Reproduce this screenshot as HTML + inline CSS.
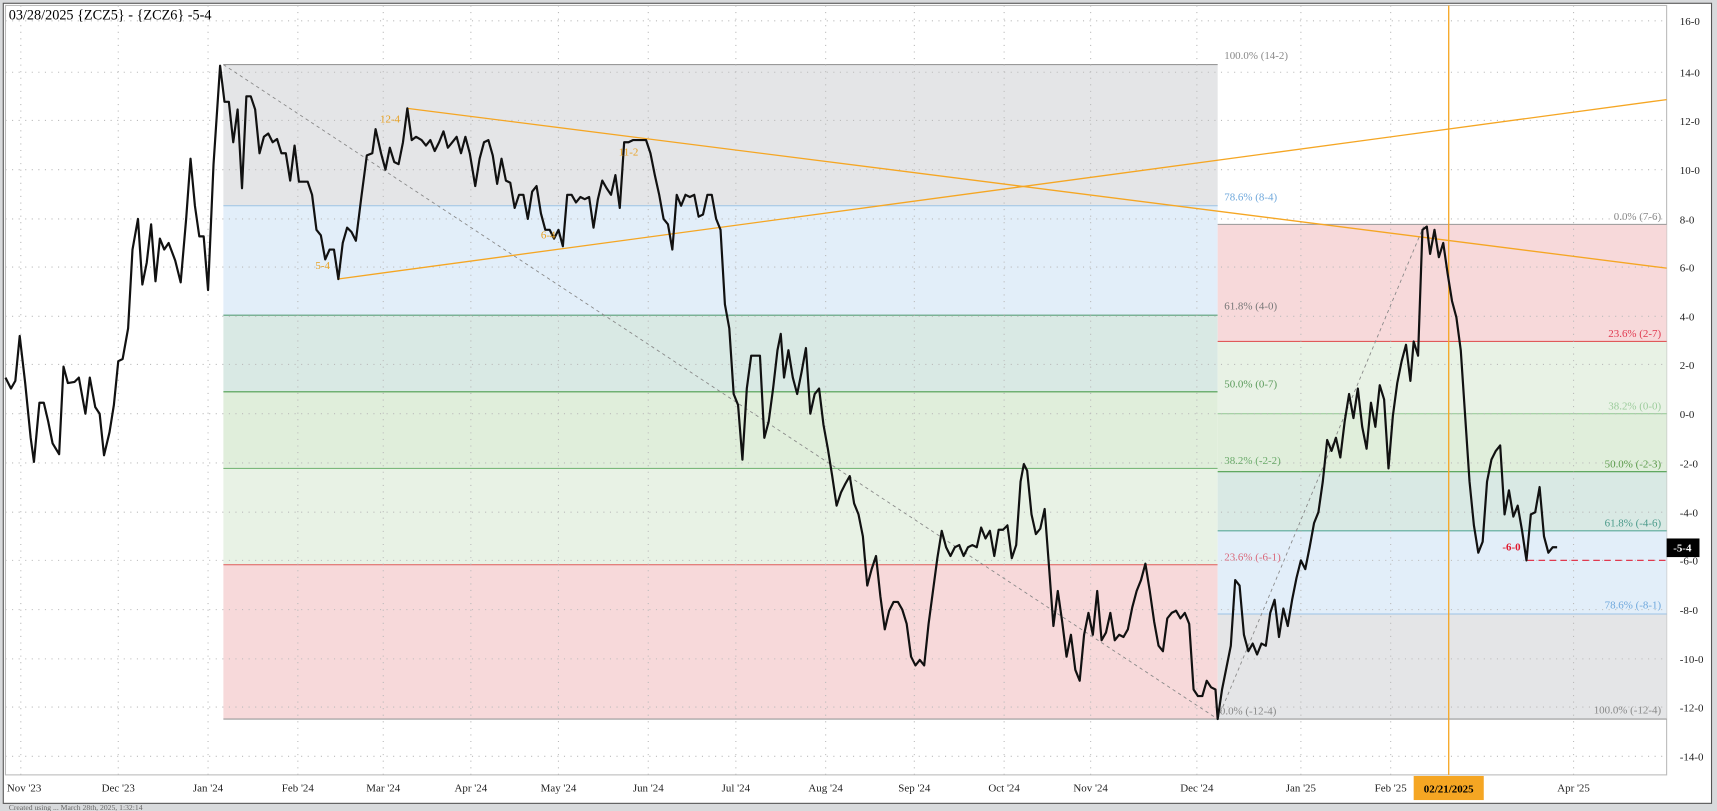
<!DOCTYPE html>
<html><head><meta charset="utf-8"><style>
html,body{margin:0;padding:0;background:#fff;}
svg{display:block;font-family:"Liberation Serif",serif;}
</style></head><body>
<svg width="1717" height="811" viewBox="0 0 1568 741" preserveAspectRatio="none" xmlns="http://www.w3.org/2000/svg">
<rect x="0" y="0" width="1568" height="741" fill="#d8dadc"/>
<rect x="3" y="3" width="1560" height="731" fill="#fff" stroke="#555" stroke-width="1"/>
<rect x="5" y="5" width="1517" height="703" fill="#fff" stroke="#bbb" stroke-width="1"/>
<!-- left fib -->
<rect x="204" y="59" width="908" height="129" fill="#e4e5e7"/>
<rect x="204" y="188" width="908" height="100" fill="#e2eef9"/>
<rect x="204" y="288" width="908" height="70" fill="#d9e9e4"/>
<rect x="204" y="358" width="908" height="70" fill="#e0eedb"/>
<rect x="204" y="428" width="908" height="88" fill="#e8f2e5"/>
<rect x="204" y="516" width="908" height="141" fill="#f7d9da"/>
<g stroke-width="1">
<line x1="204" y1="59" x2="1112" y2="59" stroke="#999"/>
<line x1="204" y1="188" x2="1112" y2="188" stroke="#9cc3e6"/>
<line x1="204" y1="288" x2="1112" y2="288" stroke="#5aa07a"/>
<line x1="204" y1="358" x2="1112" y2="358" stroke="#4e9e4e"/>
<line x1="204" y1="428" x2="1112" y2="428" stroke="#7bb87b"/>
<line x1="204" y1="516" x2="1112" y2="516" stroke="#e05a5a"/>
<line x1="204" y1="657" x2="1112" y2="657" stroke="#999"/>
</g>
<!-- right fib -->
<rect x="1112" y="205" width="410" height="107" fill="#f7d9da"/>
<rect x="1112" y="312" width="410" height="66" fill="#e8f2e5"/>
<rect x="1112" y="378" width="410" height="53" fill="#e0eedb"/>
<rect x="1112" y="431" width="410" height="54" fill="#d9e9e4"/>
<rect x="1112" y="485" width="410" height="76" fill="#e2eef9"/>
<rect x="1112" y="561" width="410" height="96" fill="#e4e5e7"/>
<g stroke-width="1">
<line x1="1112" y1="205" x2="1522" y2="205" stroke="#999"/>
<line x1="1112" y1="312" x2="1522" y2="312" stroke="#e05a5a"/>
<line x1="1112" y1="378" x2="1522" y2="378" stroke="#9ccc9c"/>
<line x1="1112" y1="431" x2="1522" y2="431" stroke="#4e9e4e"/>
<line x1="1112" y1="485" x2="1522" y2="485" stroke="#5aa99a"/>
<line x1="1112" y1="561" x2="1522" y2="561" stroke="#9cc3e6"/>
<line x1="1112" y1="657" x2="1522" y2="657" stroke="#999"/>
</g>
<!-- grid -->
<g stroke="#bbb" stroke-dasharray="1,5" stroke-width="1">
<line x1="5" y1="19" x2="1522" y2="19"/><line x1="5" y1="66" x2="1522" y2="66"/><line x1="5" y1="110" x2="1522" y2="110"/><line x1="5" y1="155" x2="1522" y2="155"/><line x1="5" y1="200" x2="1522" y2="200"/><line x1="5" y1="244" x2="1522" y2="244"/><line x1="5" y1="289" x2="1522" y2="289"/><line x1="5" y1="333" x2="1522" y2="333"/><line x1="5" y1="378" x2="1522" y2="378"/><line x1="5" y1="423" x2="1522" y2="423"/><line x1="5" y1="468" x2="1522" y2="468"/><line x1="5" y1="512" x2="1522" y2="512"/><line x1="5" y1="557" x2="1522" y2="557"/><line x1="5" y1="602" x2="1522" y2="602"/><line x1="5" y1="646" x2="1522" y2="646"/><line x1="5" y1="691" x2="1522" y2="691"/>
<line x1="19" y1="5" x2="19" y2="708"/><line x1="108" y1="5" x2="108" y2="708"/><line x1="190" y1="5" x2="190" y2="708"/><line x1="272" y1="5" x2="272" y2="708"/><line x1="350" y1="5" x2="350" y2="708"/><line x1="430" y1="5" x2="430" y2="708"/><line x1="510" y1="5" x2="510" y2="708"/><line x1="592" y1="5" x2="592" y2="708"/><line x1="672" y1="5" x2="672" y2="708"/><line x1="754" y1="5" x2="754" y2="708"/><line x1="835" y1="5" x2="835" y2="708"/><line x1="917" y1="5" x2="917" y2="708"/><line x1="996" y1="5" x2="996" y2="708"/><line x1="1093" y1="5" x2="1093" y2="708"/><line x1="1188" y1="5" x2="1188" y2="708"/><line x1="1270" y1="5" x2="1270" y2="708"/><line x1="1437" y1="5" x2="1437" y2="708"/>
</g>
<!-- dashed trend -->
<g stroke="#888" stroke-dasharray="3,3" stroke-width="0.8" fill="none">
<line x1="204" y1="59" x2="1112" y2="657"/><line x1="1112" y1="657" x2="1300" y2="207"/>
</g>
<!-- orange lines -->
<g stroke="#f5a623" stroke-width="1.2">
<line x1="372" y1="99" x2="1522" y2="245"/>
<line x1="308" y1="255" x2="1522" y2="91"/>
<line x1="1323" y1="5" x2="1323" y2="708"/>
</g>
<line x1="1395" y1="512" x2="1522" y2="512" stroke="#e0394f" stroke-dasharray="6,4" stroke-width="1.2"/>
<!-- price -->
<polyline fill="none" stroke="#111" stroke-width="2" stroke-linejoin="round" points="5,345 10,355 14,348 18,307 23,350 28,400 31,422 36,368 40,368 44,385 48,405 54,415 58,335 62,350 68,349 72,345 78,378 82,345 87,372 91,378 95,416 100,395 104,370 108,330 112,328 117,300 121,228 126,200 130,260 134,240 138,205 142,257 146,218 150,228 154,222 160,238 165,258 170,200 174,145 178,188 182,216 186,216 190,265 195,150 201,60 205,93 209,93 213,130 217,100 221,172 225,88 229,88 233,100 237,140 241,125 245,122 249,130 253,127 257,140 261,140 265,165 269,133 273,166 277,166 281,166 285,178 289,210 293,215 297,237 301,228 305,228 309,255 313,222 317,208 321,212 325,220 330,180 335,142 340,140 343,118 348,140 352,155 356,135 360,148 364,150 368,130 372,99 376,128 380,125 385,128 389,133 393,128 397,138 401,130 405,120 409,135 413,130 417,125 421,140 425,125 429,140 434,170 438,145 442,130 446,128 450,142 454,168 458,145 462,165 466,167 470,190 474,178 478,178 482,200 486,175 490,170 494,195 498,210 502,210 506,218 510,210 514,225 518,178 522,178 526,185 530,180 534,182 538,180 542,208 546,182 550,165 554,172 558,178 562,160 566,190 570,130 574,130 578,128 582,128 586,128 590,128 594,140 598,160 602,178 606,200 610,205 614,228 618,178 622,188 626,178 630,180 634,178 638,198 642,196 646,178 650,178 654,200 658,210 662,278 666,300 670,360 674,370 678,420 682,355 686,325 690,325 694,325 698,400 702,385 706,355 710,320 713,305 716,345 720,320 724,345 728,360 732,340 736,318 740,378 744,360 748,355 752,388 756,410 760,435 764,462 768,450 772,442 776,435 780,460 784,470 788,490 792,535 796,520 800,508 804,545 808,575 812,558 816,550 820,550 824,557 828,570 832,600 836,608 840,603 844,608 848,570 852,540 856,510 860,485 864,500 868,508 872,500 876,498 880,508 884,500 888,498 892,500 896,482 900,492 904,485 908,508 912,484 916,484 920,480 924,510 928,498 932,440 935,424 938,430 942,470 946,488 950,483 954,465 958,518 962,572 966,540 970,568 974,600 978,580 982,612 986,622 990,580 994,560 998,580 1002,540 1006,585 1010,578 1014,560 1018,585 1022,580 1026,582 1030,575 1034,555 1038,540 1042,530 1046,515 1050,540 1054,568 1058,590 1062,595 1066,565 1070,560 1074,558 1078,565 1082,560 1086,570 1090,630 1094,636 1098,636 1102,622 1106,628 1110,630 1112,657 1116,630 1120,610 1124,590 1128,530 1132,535 1136,580 1140,595 1144,588 1148,598 1152,588 1156,590 1160,560 1164,548 1168,582 1172,556 1176,572 1180,548 1184,528 1188,512 1192,520 1196,500 1200,478 1204,468 1208,440 1212,402 1216,412 1220,400 1224,418 1228,385 1232,360 1236,382 1240,355 1244,390 1248,410 1252,368 1256,390 1260,352 1264,365 1268,428 1272,380 1276,350 1280,330 1284,315 1288,348 1291,312 1295,325 1299,210 1303,207 1306,232 1310,210 1314,235 1318,222 1322,250 1326,275 1330,290 1334,320 1338,380 1342,440 1346,480 1350,505 1354,495 1358,440 1362,420 1366,412 1370,407 1374,470 1378,448 1382,472 1386,462 1390,485 1394,512 1398,470 1402,468 1406,445 1410,490 1414,505 1418,500 1422,500"/>
<!-- labels -->
<g font-size="10">
<text x="1118" y="54" fill="#888">100.0% (14-2)</text>
<text x="1118" y="183" fill="#6fa8dc">78.6% (8-4)</text>
<text x="1118" y="283" fill="#777">61.8% (4-0)</text>
<text x="1118" y="354" fill="#5a9a5a">50.0% (0-7)</text>
<text x="1118" y="424" fill="#6aaa6a">38.2% (-2-2)</text>
<text x="1118" y="512" fill="#d9677a">23.6% (-6-1)</text>
<text x="1114" y="653" fill="#888">0.0% (-12-4)</text>
<g text-anchor="end">
<text x="1517" y="201" fill="#888">0.0% (7-6)</text>
<text x="1517" y="308" fill="#e0394f">23.6% (2-7)</text>
<text x="1517" y="374" fill="#9ccc9c">38.2% (0-0)</text>
<text x="1517" y="427" fill="#5a9a4a">50.0% (-2-3)</text>
<text x="1517" y="481" fill="#4a9a8a">61.8% (-4-6)</text>
<text x="1517" y="556" fill="#6fa8dc">78.6% (-8-1)</text>
<text x="1517" y="652" fill="#888">100.0% (-12-4)</text>
</g>
<text x="347" y="112" fill="#e8a020">12-4</text>
<text x="565" y="142" fill="#e8a020">11-2</text>
<text x="288" y="246" fill="#e8a020">5-4</text>
<text x="494" y="218" fill="#e8a020">6-4</text>
<text x="1372" y="503" fill="#e0192f" font-weight="bold">-6-0</text>
</g>
<text x="8" y="18" font-size="13" fill="#000">03/28/2025 {ZCZ5} - {ZCZ6} -5-4</text>
<!-- y axis -->
<g font-size="10" fill="#222">
<text x="1534" y="23">16-0</text><text x="1534" y="70">14-0</text><text x="1534" y="114">12-0</text><text x="1534" y="159">10-0</text><text x="1534" y="204">8-0</text><text x="1534" y="248">6-0</text><text x="1534" y="293">4-0</text><text x="1534" y="337">2-0</text><text x="1534" y="382">0-0</text><text x="1534" y="427">-2-0</text><text x="1534" y="472">-4-0</text><text x="1534" y="516">-6-0</text><text x="1534" y="561">-8-0</text><text x="1534" y="606">-10-0</text><text x="1534" y="650">-12-0</text><text x="1534" y="695">-14-0</text>
</g>
<rect x="1522" y="492" width="30" height="17" fill="#000"/>
<text x="1528" y="504" font-size="10" fill="#fff" font-weight="bold">-5-4</text>
<!-- x axis -->
<g font-size="10" fill="#222" text-anchor="middle">
<text x="22" y="723">Nov '23</text><text x="108" y="723">Dec '23</text><text x="190" y="723">Jan '24</text><text x="272" y="723">Feb '24</text><text x="350" y="723">Mar '24</text><text x="430" y="723">Apr '24</text><text x="510" y="723">May '24</text><text x="592" y="723">Jun '24</text><text x="672" y="723">Jul '24</text><text x="754" y="723">Aug '24</text><text x="835" y="723">Sep '24</text><text x="917" y="723">Oct '24</text><text x="996" y="723">Nov '24</text><text x="1093" y="723">Dec '24</text><text x="1188" y="723">Jan '25</text><text x="1270" y="723">Feb '25</text><text x="1346" y="723">'25</text><text x="1437" y="723">Apr '25</text>
</g>
<rect x="1291" y="709" width="64" height="22" fill="#f5a623"/>
<text x="1323" y="724" font-size="10" fill="#000" font-weight="bold" text-anchor="middle">02/21/2025</text>
<text x="8" y="740" font-size="7" fill="#666">Created using ... March 28th, 2025, 1:32:14</text>
</svg>
</body></html>
